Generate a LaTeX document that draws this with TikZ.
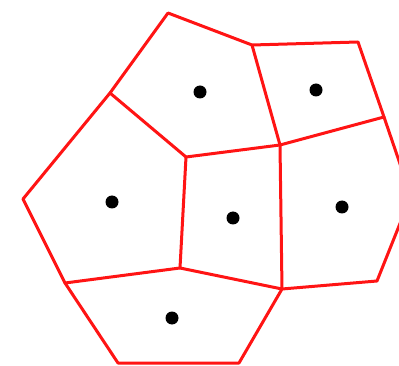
\documentclass[tikz,border=0pt]{standalone}
\begin{document}
\begin{tikzpicture}[x=1pt,y=-1pt,
  edge/.style={draw={rgb,255:red,255;green,20;blue,20},line width=3pt,line join=round,line cap=round},
  site/.style={circle,fill=black,inner sep=0pt,minimum size=13pt}]
\useasboundingbox (0,0) rectangle (399,366);
\clip (0,0) rectangle (399,366);
% vertices
\coordinate (A) at (168,13);
\coordinate (B) at (252,45);
\coordinate (C) at (358,42);
\coordinate (D) at (384,117);
\coordinate (E) at (411,196);
\coordinate (F) at (377,281);
\coordinate (G) at (282,289);
\coordinate (H) at (239,363);
\coordinate (I) at (118,363);
\coordinate (J) at (65,283);
\coordinate (K) at (23,199);
\coordinate (L) at (110,93);
\coordinate (M) at (186,157);
\coordinate (N) at (280,145);
\coordinate (O) at (180,268);
% edges
\draw[edge] (A) -- (B) -- (C) -- (D) -- (E) -- (F) -- (G) -- (H) -- (I) -- (J) -- (K) -- (L) -- (A);
\draw[edge] (L) -- (M) -- (N) -- (D);
\draw[edge] (B) -- (N) -- (G);
\draw[edge] (M) -- (O) -- (G);
\draw[edge] (J) -- (O);
% sites
\node[site] (s1) at (200,92) {};
\node[site] (s2) at (316,90) {};
\node[site] (s3) at (112,202) {};
\node[site] (s4) at (233,218) {};
\node[site] (s5) at (342,207) {};
\node[site] (s6) at (172,318) {};
\end{tikzpicture}
\end{document}
